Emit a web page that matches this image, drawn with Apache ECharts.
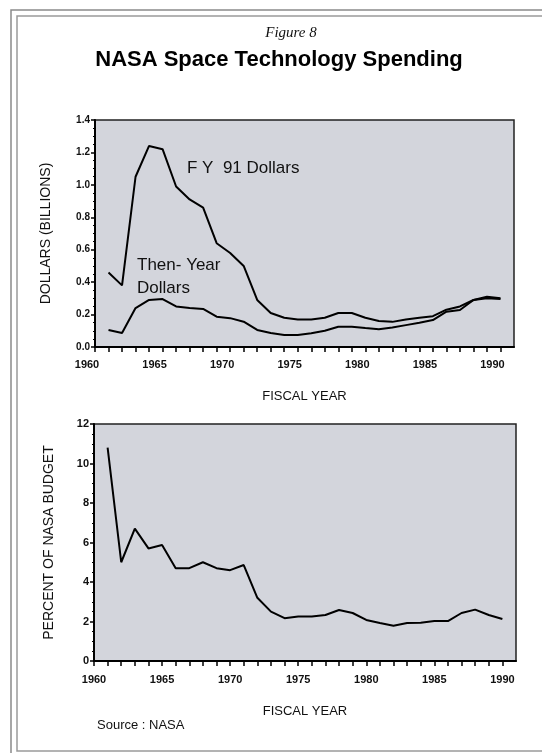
<!DOCTYPE html>
<html>
<head>
<meta charset="utf-8">
<script src="https://cdn.jsdelivr.net/npm/echarts@6/dist/echarts.min.js"></script>
<style>
  html, body { margin: 0; padding: 0; background: #fff; }
  #chart { width: 542px; height: 753px; }
</style>
</head>
<body>
<div id="chart"></div>
<script>
var years = [1961, 1962, 1963, 1964, 1965, 1966, 1967, 1968, 1969, 1970,
             1971, 1972, 1973, 1974, 1975, 1976, 1977, 1978, 1979, 1980,
             1981, 1982, 1983, 1984, 1985, 1986, 1987, 1988, 1989, 1990];
var fy91Dollars = [0.46, 0.38, 1.05, 1.24, 1.22, 0.99, 0.91, 0.86, 0.64, 0.58,
                   0.50, 0.29, 0.21, 0.18, 0.17, 0.17, 0.18, 0.21, 0.21, 0.18,
                   0.16, 0.155, 0.17, 0.18, 0.19, 0.23, 0.25, 0.29, 0.31, 0.30];
var thenYearDollars = [0.105, 0.086, 0.24, 0.29, 0.296, 0.25, 0.24, 0.235, 0.187, 0.178,
                       0.156, 0.105, 0.086, 0.074, 0.074, 0.085, 0.10, 0.125, 0.125, 0.117,
                       0.11, 0.12, 0.135, 0.15, 0.166, 0.218, 0.228, 0.29, 0.30, 0.296];
var percentBudget = [10.8, 5.0, 6.7, 5.7, 5.87, 4.7, 4.7, 5.0, 4.7, 4.6,
                     4.86, 3.2, 2.5, 2.17, 2.25, 2.25, 2.33, 2.58, 2.43, 2.08,
                     1.92, 1.79, 1.92, 1.94, 2.02, 2.02, 2.43, 2.6, 2.33, 2.13];

function pairs(vals) {
    return years.map(function(y, i){ return [y, vals[i]]; });
}

var chart = echarts.init(document.getElementById('chart'));

var plotBg = '#d3d5dc';
var axisFont = 'Arial, "Liberation Sans", sans-serif';

function makeX(gridIndex, labelPad, labelMargin, nameGap) {
    return {
        type: 'value',
        gridIndex: gridIndex,
        min: 1960,
        max: 1991,
        interval: 1,
        name: 'FISCAL YEAR',
        nameLocation: 'middle',
        nameGap: nameGap,
        nameTextStyle: { color: '#111', fontSize: 13, fontFamily: axisFont },
        axisLine: { lineStyle: { color: '#000', width: 2 } },
        axisTick: { length: 5, lineStyle: { color: '#000', width: 1.5 } },
        axisLabel: {
            color: '#111',
            fontSize: 11,
            fontWeight: 'bold',
            fontFamily: axisFont,
            margin: labelMargin,
            padding: labelPad,
            showMaxLabel: false,
            formatter: function(v){ return v % 5 === 0 ? String(v) : ''; }
        },
        splitLine: { show: false }
    };
}

var option = {
    animation: false,
    backgroundColor: '#fff',
    graphic: [
        { type: 'rect', shape: { x: 11, y: 10, width: 620, height: 800 },
          style: { fill: 'none', stroke: '#8a8a8a', lineWidth: 1.5 }, silent: true },
        { type: 'rect', shape: { x: 17, y: 16, width: 620, height: 735 },
          style: { fill: 'none', stroke: '#9a9a9a', lineWidth: 1.5 }, silent: true },
        { type: 'text', x: 291, y: 33,
          style: { text: 'Figure 8', fill: '#111', font: 'italic 15px "Liberation Serif", "DejaVu Serif", serif',
                   textAlign: 'center', textVerticalAlign: 'middle' } },
        { type: 'text', x: 279, y: 60,
          style: { text: 'NASA Space Technology Spending', fill: '#000',
                   font: 'bold 22px Arial, "Liberation Sans", sans-serif',
                   textAlign: 'center', textVerticalAlign: 'middle' } },
        { type: 'text', x: 187, y: 168,
          style: { text: 'F Y  91 Dollars', fill: '#111', font: '17px Arial, "Liberation Sans", sans-serif',
                   textVerticalAlign: 'middle' } },
        { type: 'text', x: 137, y: 265,
          style: { text: 'Then- Year', fill: '#111', font: '17px Arial, "Liberation Sans", sans-serif',
                   textVerticalAlign: 'middle' } },
        { type: 'text', x: 137, y: 288,
          style: { text: 'Dollars', fill: '#111', font: '17px Arial, "Liberation Sans", sans-serif',
                   textVerticalAlign: 'middle' } },
        { type: 'text', x: 97, y: 725,
          style: { text: 'Source : NASA', fill: '#111', font: '13px Arial, "Liberation Sans", sans-serif',
                   textVerticalAlign: 'middle' } }
    ],
    grid: [
        { left: 95, top: 120, right: 28, height: 227, show: true,
          backgroundColor: plotBg, borderColor: '#222', borderWidth: 1.5 },
        { left: 94, top: 424, right: 26, height: 237, show: true,
          backgroundColor: plotBg, borderColor: '#222', borderWidth: 1.5 }
    ],
    xAxis: [
        makeX(0, [0, 16, 0, 0], 12, 43),
        makeX(1, [0, 0, 0, 0], 13, 44)
    ],
    yAxis: [
        {
            type: 'value', gridIndex: 0, min: 0, max: 1.4, interval: 0.2,
            name: 'DOLLARS (BILLIONS)', nameLocation: 'middle', nameGap: 42,
            nameTextStyle: { color: '#111', fontSize: 14, fontFamily: axisFont },
            axisLine: { show: true, lineStyle: { color: '#000', width: 2 } },
            axisTick: { show: true, length: 4, lineStyle: { color: '#000', width: 1.5 } },
            minorTick: { show: true, splitNumber: 4, length: 2, lineStyle: { color: '#000' } },
            axisLabel: { color: '#111', fontSize: 10, fontWeight: 'bold', fontFamily: axisFont, margin: 5,
                         formatter: function(v){ return v.toFixed(1); } },
            splitLine: { show: false }
        },
        {
            type: 'value', gridIndex: 1, min: 0, max: 12, interval: 2,
            name: 'PERCENT OF NASA BUDGET', nameLocation: 'middle', nameGap: 38,
            nameTextStyle: { color: '#111', fontSize: 14, fontFamily: axisFont },
            axisLine: { show: true, lineStyle: { color: '#000', width: 2 } },
            axisTick: { show: true, length: 4, lineStyle: { color: '#000', width: 1.5 } },
            minorTick: { show: true, splitNumber: 4, length: 2, lineStyle: { color: '#000' } },
            axisLabel: { color: '#111', fontSize: 11, fontWeight: 'bold', fontFamily: axisFont, margin: 5 },
            splitLine: { show: false }
        }
    ],
    series: [
        {
            name: 'FY 91 Dollars', type: 'line', xAxisIndex: 0, yAxisIndex: 0,
            data: pairs(fy91Dollars), showSymbol: false,
            lineStyle: { color: '#000', width: 2 }
        },
        {
            name: 'Then-Year Dollars', type: 'line', xAxisIndex: 0, yAxisIndex: 0,
            data: pairs(thenYearDollars), showSymbol: false,
            lineStyle: { color: '#000', width: 2 }
        },
        {
            name: 'Percent of NASA Budget', type: 'line', xAxisIndex: 1, yAxisIndex: 1,
            data: pairs(percentBudget), showSymbol: false,
            lineStyle: { color: '#000', width: 2 }
        }
    ]
};

chart.setOption(option);
</script>
</body>
</html>
